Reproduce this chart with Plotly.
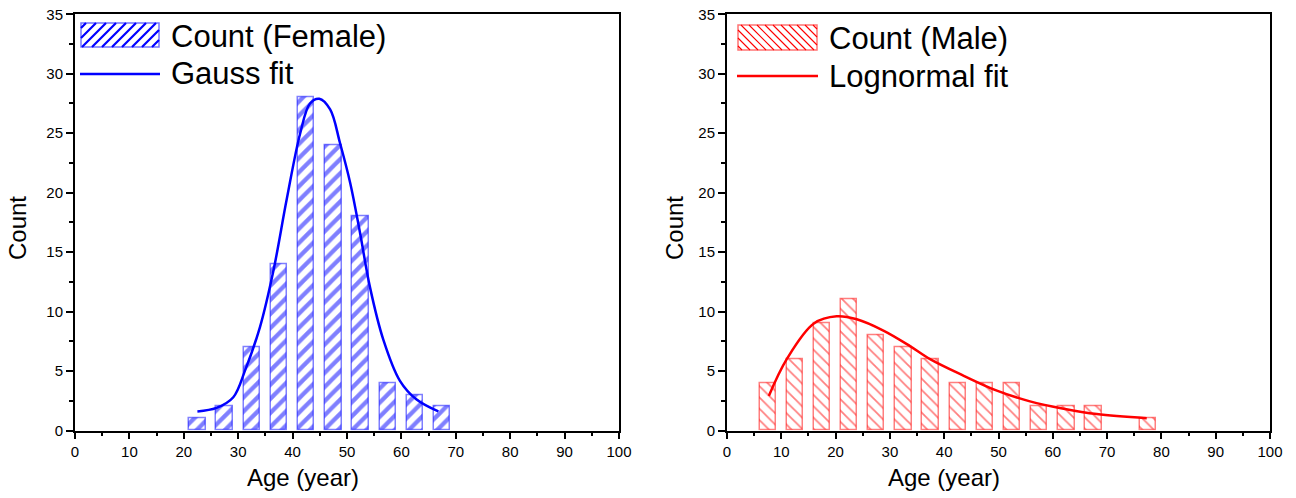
import plotly.graph_objects as go

# ---- data ----
age_female = [22.5, 27.5, 32.5, 37.5, 42.5, 47.5, 52.5, 57.5, 62.5, 67.5]
count_female = [1, 2, 7, 14, 28, 24, 18, 4, 3, 2]

age_male = [7.5, 12.5, 17.5, 22.5, 27.5, 32.5, 37.5, 42.5, 47.5, 52.5, 57.5, 62.5, 67.5, 77.5]
count_male = [4, 6, 9, 11, 8, 7, 6, 4, 4, 4, 2, 2, 2, 1]

gauss_x = [22.5, 26.0, 29.1, 31.3, 34.0, 36.5, 38.9, 41.4, 43.2, 44.9, 46.9, 48.7, 50.6, 52.4, 54.2, 56.7, 59.7, 62.8, 66.8]
gauss_y = [1.6, 1.9, 2.8, 5.1, 8.7, 13.5, 19.4, 25.0, 27.5, 27.9, 27.0, 24.2, 20.8, 16.6, 12.1, 7.6, 4.2, 2.6, 1.6]

logn_x = [7.7, 11.0, 16.0, 20.2, 23.9, 28.8, 33.7, 37.4, 43.6, 49.7, 55.8, 62.0, 68.1, 77.3]
logn_y = [2.9, 6.0, 9.0, 9.6, 9.35, 8.4, 7.1, 6.0, 4.6, 3.35, 2.45, 1.83, 1.38, 1.04]

x_ticks = list(range(0, 101, 10))
y_ticks = list(range(0, 36, 5))

legend_female = ["Count (Female)", "Gauss fit"]
legend_male = ["Count (Male)", "Lognormal fit"]

W, H = 1296, 498
FONT = "Liberation Sans, Arial, sans-serif"
BLUE = "#0000ff"
RED = "#ff0000"

fig = go.Figure()

fig.add_trace(go.Bar(
    x=age_female, y=count_female, width=3, name=legend_female[0],
    xaxis="x", yaxis="y", showlegend=False,
    marker=dict(color="white", line=dict(color="rgba(0,0,255,0.5)", width=1.5),
                pattern=dict(shape="/", fgcolor=BLUE, bgcolor="white", size=10, solidity=0.42)),
))
fig.add_trace(go.Scatter(
    x=gauss_x, y=gauss_y, mode="lines", name=legend_female[1],
    line=dict(color=BLUE, width=2.5, shape="spline"),
    xaxis="x", yaxis="y", showlegend=False,
))
fig.add_trace(go.Bar(
    x=age_male, y=count_male, width=3, name=legend_male[0],
    xaxis="x2", yaxis="y2", showlegend=False,
    marker=dict(color="white", line=dict(color="rgba(255,0,0,0.5)", width=1.5),
                pattern=dict(shape="\\", fgcolor=RED, bgcolor="white", size=8, solidity=0.22)),
))
fig.add_trace(go.Scatter(
    x=logn_x, y=logn_y, mode="lines", name=legend_male[1],
    line=dict(color=RED, width=2.5, shape="spline"),
    xaxis="x2", yaxis="y2", showlegend=False,
))

ydom = [1 - 430.5 / H, 1 - 14.3 / H]


def xax(domain, anchor):
    return dict(
        domain=domain, anchor=anchor, range=[0, 100], tickvals=x_ticks,
        ticks="outside", ticklen=6, tickwidth=1.5, tickcolor="black",
        minor=dict(dtick=5, ticks="outside", ticklen=3, tickwidth=1.5, tickcolor="black"),
        showline=True, linewidth=2, linecolor="black", mirror=True,
        showgrid=False, zeroline=False, automargin=False,
        tickfont=dict(family=FONT, size=15, color="black"),
    )


def yax(anchor):
    return dict(
        domain=ydom, anchor=anchor, range=[0, 35], tickvals=y_ticks,
        ticks="outside", ticklen=7, tickwidth=1.5, tickcolor="black",
        minor=dict(dtick=2.5, ticks="outside", ticklen=4, tickwidth=1.5, tickcolor="black"),
        showline=True, linewidth=2, linecolor="black", mirror=True,
        showgrid=False, zeroline=False, automargin=False,
        tickfont=dict(family=FONT, size=15, color="black"),
    )


# ---- legend keys (drawn as layout decorations in pixel positions) ----
def px(x):
    return x / W


def py(y):
    return 1 - y / H


def hatch_path(x0, y0, x1, y1, step, forward):
    """Diagonal hatch lines clipped to a pixel rectangle; forward=True gives '/'."""
    segs = []
    if forward:
        c = x0 + y0 + step / 2
        cmax = x1 + y1
        while c < cmax:
            pts = []
            for xe in (x0, x1):
                ye = c - xe
                if y0 <= ye <= y1:
                    pts.append((xe, ye))
            for ye in (y0, y1):
                xe = c - ye
                if x0 <= xe <= x1:
                    pts.append((xe, ye))
            if len(pts) >= 2:
                pts = sorted(set(pts))
                a, b = pts[0], pts[-1]
                segs.append(f"M{px(a[0])},{py(a[1])}L{px(b[0])},{py(b[1])}")
            c += step
    else:
        c = x0 - y1 + step / 2
        cmax = x1 - y0
        while c < cmax:
            pts = []
            for xe in (x0, x1):
                ye = xe - c
                if y0 <= ye <= y1:
                    pts.append((xe, ye))
            for ye in (y0, y1):
                xe = c + ye
                if x0 <= xe <= x1:
                    pts.append((xe, ye))
            if len(pts) >= 2:
                pts = sorted(set(pts))
                a, b = pts[0], pts[-1]
                segs.append(f"M{px(a[0])},{py(a[1])}L{px(b[0])},{py(b[1])}")
            c += step
    return "".join(segs)


shapes = []
# female key patch
fx0, fy0, fx1, fy1 = 81, 23, 159, 47
shapes.append(dict(type="path", xref="paper", yref="paper",
                   path=hatch_path(fx0, fy0, fx1, fy1, 10, True),
                   line=dict(color=BLUE, width=2.2)))
shapes.append(dict(type="rect", xref="paper", yref="paper",
                   x0=px(fx0), x1=px(fx1), y0=py(fy1), y1=py(fy0),
                   line=dict(color="rgba(0,0,255,0.55)", width=1.5)))
shapes.append(dict(type="line", xref="paper", yref="paper",
                   x0=px(80), x1=px(160), y0=py(74), y1=py(74),
                   line=dict(color=BLUE, width=2.5)))
# male key patch
mx0, my0, mx1, my1 = 738, 25, 817, 50
shapes.append(dict(type="path", xref="paper", yref="paper",
                   path=hatch_path(mx0, my0, mx1, my1, 8, False),
                   line=dict(color=RED, width=1.1)))
shapes.append(dict(type="rect", xref="paper", yref="paper",
                   x0=px(mx0), x1=px(mx1), y0=py(my1), y1=py(my0),
                   line=dict(color="rgba(255,0,0,0.55)", width=1.5)))
shapes.append(dict(type="line", xref="paper", yref="paper",
                   x0=px(737), x1=px(818), y0=py(76), y1=py(76),
                   line=dict(color=RED, width=2.5)))

lab_font = dict(family=FONT, size=31, color="black")
ax_font = dict(family=FONT, size=24, color="black")


def note(text, x, y, xanchor="center", angle=0, font=ax_font):
    return dict(text=text, x=px(x), y=py(y), xanchor=xanchor, yanchor="middle",
                xref="paper", yref="paper", showarrow=False, textangle=angle, font=font)


annotations = [
    note(legend_female[0], 169, 36, "left", font=lab_font),
    note(legend_female[1], 169, 74, "left", font=lab_font),
    note(legend_male[0], 827, 38, "left", font=lab_font),
    note(legend_male[1], 827, 76, "left", font=lab_font),
    note("Age (year)", 303, 477),
    note("Age (year)", 944, 477),
    note("Count", 18, 228, angle=-90),
    note("Count", 675, 228, angle=-90),
]

fig.update_layout(
    width=W, height=H, margin=dict(l=0, r=0, t=0, b=0),
    paper_bgcolor="white", plot_bgcolor="white",
    showlegend=False,
    xaxis=xax([75 / W, 619 / W], "y"),
    yaxis=yax("x"),
    xaxis2=xax([727 / W, 1270 / W], "y2"),
    yaxis2=yax("x2"),
    bargap=0,
    shapes=shapes,
    annotations=annotations,
)

fig.write_html(
    "out.html",
    config={"displayModeBar": False},
    post_script="document.body.style.margin='0';document.body.style.padding='0';",
)
